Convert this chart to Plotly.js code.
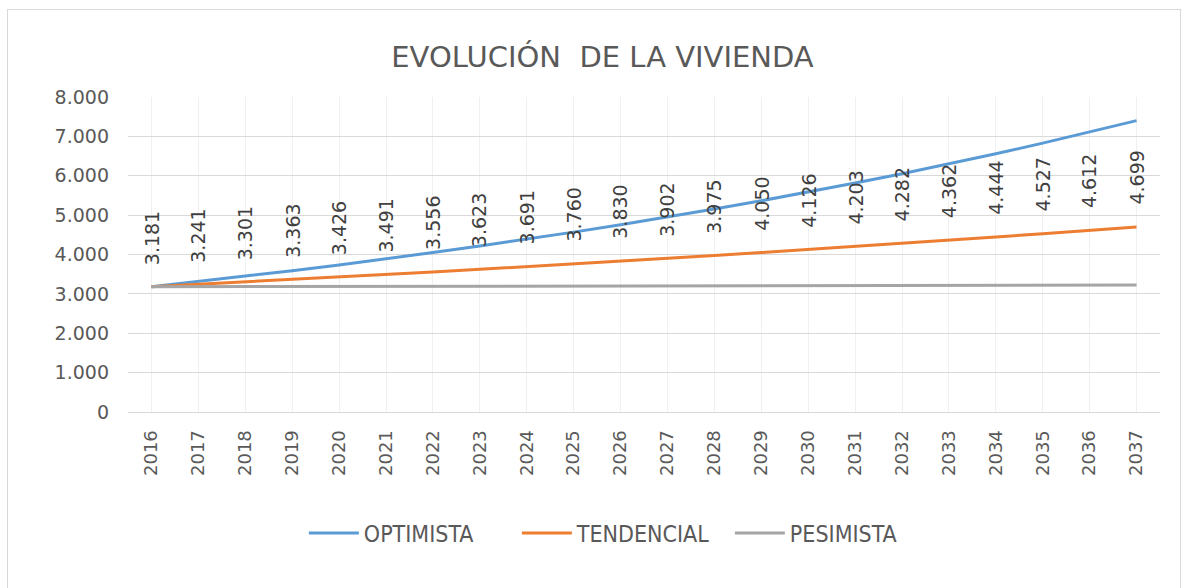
<!DOCTYPE html>
<html>
<head>
<meta charset="utf-8">
<script src="https://cdn.plot.ly/plotly-3.0.1.min.js"></script>
<style>
  body { margin: 0; background: #fff; }
  #chart { position: absolute; left: 0; top: 0; width: 1186px; height: 588px; }
  #frame { position: absolute; left: 7px; top: 9px; width: 1172px; height: 590px;
           border: 1px solid #d9d9d9; pointer-events: none; }
</style>
</head>
<body>
<div id="chart"></div>
<div id="frame"></div>
<script>
// Evolución de la vivienda - tres escenarios

let years = ['2016','2017','2018','2019','2020','2021','2022','2023','2024','2025','2026',
             '2027','2028','2029','2030','2031','2032','2033','2034','2035','2036','2037'];

// valores (aprox. salvo el tendencial, que lleva etiquetas)
let optimista = [3181,3311,3447,3589,3736,3889,4049,4215,4388,4568,4755,
                 4950,5153,5365,5585,5814,6052,6301,6559,6828,7108,7400];

let tendencial = [3181,3241,3301,3363,3426,3491,3556,3623,3691,3760,3830,
                  3902,3975,4050,4126,4203,4282,4362,4444,4527,4612,4699];

let pesimista = [3181,3183,3185,3187,3189,3191,3193,3195,3197,3199,3201,
                 3203,3205,3207,3209,3211,3213,3215,3217,3219,3221,3223];

// 3181 -> "3.181"
function fmt(v) {
  let s = String(Math.round(v));
  return s.length > 3 ? s.slice(0, s.length - 3) + '.' + s.slice(-3) : s;
}

let font = 'DejaVu Sans, sans-serif';

var trace1 = {
  x: years, y: optimista, name: 'OPTIMISTA',
  type: 'scatter', mode: 'lines',
  line: {color: '#5b9bd5', width: 3}
};

var trace2 = {
  x: years, y: tendencial, name: 'TENDENCIAL',
  type: 'scatter', mode: 'lines',
  line: {color: '#ed7d31', width: 3}
};

var trace3 = {
  x: years, y: pesimista, name: 'PESIMISTA',
  type: 'scatter', mode: 'lines',
  line: {color: '#a5a5a5', width: 3}
};

// etiquetas verticales sobre la serie tendencial (x = índice de categoría)
var labels = years.map(function(yr, i) {
  return {
    x: i, y: tendencial[i], xref: 'x', yref: 'y',
    text: fmt(tendencial[i]), showarrow: false,
    textangle: -90, yanchor: 'bottom', yshift: 20,
    font: {family: font, size: 19, color: '#404040'}
  };
});

var layout = {
  width: 1186, height: 588,
  margin: {l: 128, r: 26, t: 97, b: 176},
  paper_bgcolor: '#fff', plot_bgcolor: '#fff',
  separators: ',.',
  title: {
    text: 'EVOLUCIÓN  DE LA VIVIENDA',
    x: 0.508, xanchor: 'center', y: 0.903, yref: 'container', yanchor: 'middle',
    font: {family: font, size: 29, color: '#595959'}
  },
  xaxis: {
    type: 'category',
    range: [-0.5, years.length - 0.5],
    tickangle: -90,
    ticks: '', ticklabelstandoff: 10,
    showgrid: true, gridcolor: '#f0f0f0',
    showline: true, linecolor: '#d9d9d9',
    tickfont: {family: font, size: 18, color: '#595959'}
  },
  yaxis: {
    range: [0, 8000], dtick: 1000, tickformat: ',d',
    showgrid: true, gridcolor: '#d9d9d9', zeroline: false,
    ticks: '', ticklabelstandoff: 18,
    tickfont: {family: font, size: 19, color: '#595959'}
  },
  showlegend: true,
  legend: {
    orientation: 'h', x: 0.48, xanchor: 'center', y: -0.384, yanchor: 'middle',
    font: {family: 'DejaVu Sans Condensed, DejaVu Sans, sans-serif', size: 23, color: '#595959'},
    itemwidth: 50,
    entrywidth: 148
  },
  annotations: labels
};

Plotly.newPlot('chart', [trace1, trace2, trace3], layout, {displayModeBar: false});
</script>
</body>
</html>
